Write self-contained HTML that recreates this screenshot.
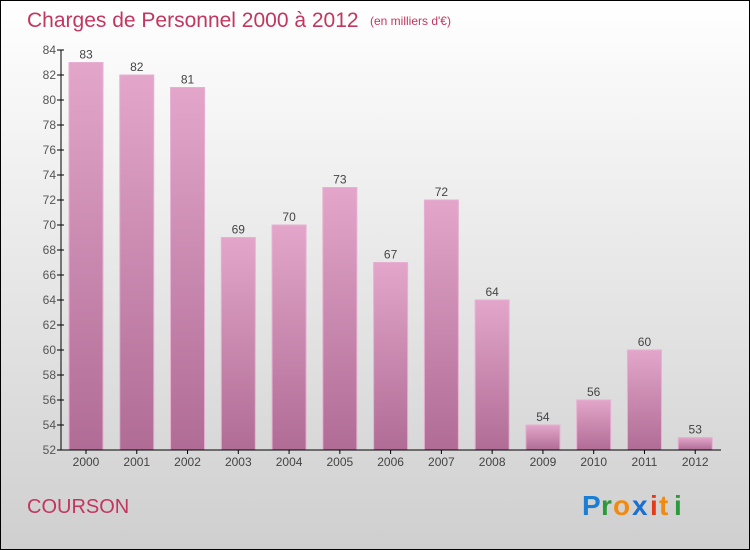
<!DOCTYPE html>
<html><head><meta charset="utf-8"><style>
body{margin:0}
svg{display:block;font-family:"Liberation Sans",sans-serif}
</style></head><body>
<svg width="750" height="550" viewBox="0 0 750 550">
<defs>
<linearGradient id="bg" x1="0" y1="0" x2="0" y2="1"><stop offset="0" stop-color="#ffffff"/><stop offset="1" stop-color="#cfcfcf"/></linearGradient>
<linearGradient id="bar" x1="0" y1="0" x2="0" y2="1"><stop offset="0" stop-color="#e3a6ca"/><stop offset="1" stop-color="#b06c95"/></linearGradient>
</defs>
<rect x="0.5" y="0.5" width="749" height="549" fill="url(#bg)" stroke="#000"/>
<text x="27" y="27" font-size="21" fill="#c2365f">Charges de Personnel 2000 à 2012</text>
<text x="370" y="25" font-size="12" fill="#c2365f">(en milliers d'€)</text>
<g id="yaxis"></g>
<g id="bars"></g>
<g id="xaxis"></g>
<text x="27" y="513" font-size="20" fill="#c2365f">COURSON</text>
<g font-size="28" font-weight="bold" font-family="Liberation Sans, sans-serif">
<text x="582" y="515" fill="#1a7fd4">P</text><text x="601" y="515" fill="#2a9a3a">r</text><text x="613" y="515" fill="#f08a10">o</text><text x="632" y="515" fill="#1a6fd0">x</text><text x="650" y="515" fill="#e53a1a">i</text><text x="659" y="515" fill="#f08a10">t</text><text x="674" y="515" fill="#2a9a3a">i</text>
</g>
</svg>
<script>
const categories=["2000","2001","2002","2003","2004","2005","2006","2007","2008","2009","2010","2011","2012"];
const values=[83,82,81,69,70,73,67,72,64,54,56,60,53];
const yTicks=[52,54,56,58,60,62,64,66,68,70,72,74,76,78,80,82,84];
const NS="http://www.w3.org/2000/svg";
const X0=61,X1=721,Y0=450,Y1=50,YMIN=52,YMAX=84;
const band=(X1-X0)/categories.length;
function y(v){return Y0-(v-YMIN)/(YMAX-YMIN)*(Y0-Y1);}
function x(i){return X0+i*band;}
function mk(t,a,p){const e=document.createElementNS(NS,t);for(const k in a)e.setAttribute(k,a[k]);p.appendChild(e);return e;}
const ya=document.getElementById('yaxis'),bs=document.getElementById('bars'),xa=document.getElementById('xaxis');
mk('line',{x1:X0,y1:Y1,x2:X0,y2:Y0,stroke:'#000'},ya);
yTicks.forEach(t=>{
 mk('line',{x1:X0-4,y1:y(t),x2:X0+3,y2:y(t),stroke:'#000'},ya);
 const tx=mk('text',{x:X0-5,y:y(t)+4,'text-anchor':'end','font-size':12,fill:'#555'},ya);
 tx.textContent=t;
 
 
});
values.forEach((v,i)=>{
 const bx=x(i)+8,w=34;
 const r=mk('rect',{x:bx,y:y(v),width:w,height:Y0-y(v),fill:'url(#bar)',stroke:'#e7b0d2','stroke-width':1},bs);
 
 
 const l=mk('text',{x:bx+w/2,y:y(v)-4,'text-anchor':'middle','font-size':12,fill:'#444'},bs);
 l.textContent=v;
 
 
 mk('line',{x1:bx+w/2,y1:Y0,x2:bx+w/2,y2:Y0+4,stroke:'#000'},xa);
 const c=mk('text',{x:bx+w/2,y:Y0+16,'text-anchor':'middle','font-size':12,fill:'#444'},xa);
 c.textContent=categories[i];
 
 
});
mk('line',{x1:X0,y1:Y0,x2:X1,y2:Y0,stroke:'#000'},xa);
</script>
</body></html>
